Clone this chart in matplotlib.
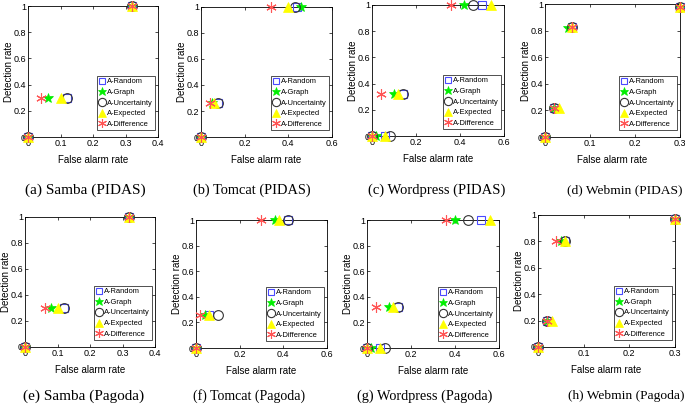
import numpy as np
import matplotlib
matplotlib.use("Agg")
import matplotlib.pyplot as plt

NARROW = ['Liberation Sans Narrow', 'Liberation Sans', 'DejaVu Sans']
plt.rcParams['font.family'] = NARROW

SERIES = ['A-Random', 'A-Graph', 'A-Uncertainty', 'A-Expected', 'A-Difference']

# false alarm rate / detection rate per panel, one list per series (order as SERIES)
samba_pidas_fa = [[0, 0.12, 0.32], [0, 0.06, 0.32], [0, 0.12, 0.32], [0, 0.10, 0.32], [0, 0.04, 0.32]]
samba_pidas_dr = [[0, 0.30, 1], [0, 0.30, 1], [0, 0.30, 1], [0, 0.30, 1], [0, 0.30, 1]]

tomcat_pidas_fa = [[0, 0.08, 0.44], [0, 0.05, 0.46], [0, 0.08, 0.43], [0, 0.06, 0.40], [0, 0.04, 0.32]]
tomcat_pidas_dr = [[0, 0.26, 1], [0, 0.26, 1], [0, 0.26, 1], [0, 0.26, 1], [0, 0.26, 1]]

wordpress_pidas_fa = [[0, 0.06, 0.14, 0.50], [0, 0.02, 0.10, 0.42], [0, 0.08, 0.14, 0.46],
                      [0, 0.06, 0.12, 0.54], [0, 0.04, 0.36]]
wordpress_pidas_dr = [[0, 0, 0.32, 1], [0, 0, 0.32, 1], [0, 0, 0.32, 1], [0, 0, 0.32, 1], [0, 0.32, 1]]

webmin_pidas_fa = [[0, 0.02, 0.06, 0.30], [0, 0.02, 0.05, 0.30], [0, 0.02, 0.06, 0.30],
                   [0, 0.03, 0.06, 0.30], [0, 0.02, 0.06, 0.30]]
webmin_pidas_dr = [[0, 0.22, 0.83, 0.98], [0, 0.22, 0.82, 0.98], [0, 0.22, 0.83, 0.98],
                   [0, 0.22, 0.83, 0.98], [0, 0.22, 0.83, 0.98]]

samba_pagoda_fa = [[0, 0.12, 0.32], [0, 0.08, 0.32], [0, 0.12, 0.32], [0, 0.10, 0.32], [0, 0.06, 0.32]]
samba_pagoda_dr = [[0, 0.30, 1], [0, 0.30, 1], [0, 0.30, 1], [0, 0.30, 1], [0, 0.30, 1]]

tomcat_pagoda_fa = [[0, 0.06, 0.42], [0, 0.04, 0.36], [0, 0.10, 0.42], [0, 0.06, 0.38], [0, 0.02, 0.30]]
tomcat_pagoda_dr = [[0, 0.26, 1], [0, 0.26, 1], [0, 0.26, 1], [0, 0.26, 1], [0, 0.26, 1]]

wordpress_pagoda_fa = [[0, 0.06, 0.14, 0.52], [0, 0.02, 0.10, 0.40], [0, 0.08, 0.14, 0.46],
                       [0, 0.06, 0.12, 0.56], [0, 0.04, 0.36]]
wordpress_pagoda_dr = [[0, 0, 0.32, 1], [0, 0, 0.32, 1], [0, 0, 0.32, 1], [0, 0, 0.32, 1], [0, 0.32, 1]]

webmin_pagoda_fa = [[0, 0.02, 0.06, 0.30], [0, 0.02, 0.05, 0.30], [0, 0.02, 0.06, 0.30],
                    [0, 0.03, 0.06, 0.30], [0, 0.02, 0.04, 0.30]]
webmin_pagoda_dr = [[0, 0.20, 0.80, 0.97], [0, 0.20, 0.80, 0.97], [0, 0.20, 0.80, 0.97],
                    [0, 0.20, 0.80, 0.97], [0, 0.20, 0.80, 0.97]]

captions = ['(a) Samba (PIDAS)', '(b) Tomcat (PIDAS)', '(c) Wordpress (PIDAS)', '(d) Webmin (PIDAS)',
            '(e) Samba (Pagoda)', '(f) Tomcat (Pagoda)', '(g) Wordpress (Pagoda)', '(h) Webmin (Pagoda)']
x_max = [0.4, 0.6, 0.6, 0.3, 0.4, 0.6, 0.6, 0.3]
x_ticks = [[0, 0.1, 0.2, 0.3, 0.4], [0, 0.2, 0.4, 0.6], [0, 0.2, 0.4, 0.6], [0, 0.1, 0.2, 0.3],
           [0, 0.1, 0.2, 0.3, 0.4], [0, 0.2, 0.4, 0.6], [0, 0.2, 0.4, 0.6], [0, 0.1, 0.2, 0.3]]
y_ticks = [0, 0.2, 0.4, 0.6, 0.8, 1]

panels = [(samba_pidas_fa, samba_pidas_dr), (tomcat_pidas_fa, tomcat_pidas_dr),
          (wordpress_pidas_fa, wordpress_pidas_dr), (webmin_pidas_fa, webmin_pidas_dr),
          (samba_pagoda_fa, samba_pagoda_dr), (tomcat_pagoda_fa, tomcat_pagoda_dr),
          (wordpress_pagoda_fa, wordpress_pagoda_dr), (webmin_pagoda_fa, webmin_pagoda_dr)]

# pixel boxes (left, right, top, bottom) of each axes in the 685x404 picture
W, H = 685, 404
boxes = [(28, 158, 6, 137), (201, 332, 7, 137), (372, 504, 5, 136), (545, 680, 4, 137),
         (25, 155, 217, 347), (196, 327, 220, 348), (367, 499, 220, 348), (538, 675, 215, 347)]
cap_pos = [(85, 190), (252, 190), (437, 190), (625, 190),
           (84, 396), (249, 396), (425, 396), (626, 396)]
cap_size = [11, 10.4, 10.5, 9.7, 11, 10, 10.3, 9.7]

styles = [
    dict(marker='s', mfc='none', mec='#4a4aff', ms=5.5, mew=0.8),
    dict(marker='*', mfc='#00ee00', mec='#00ee00', ms=7.5, mew=0.5),
    dict(marker='o', mfc='none', mec='#333333', ms=7, mew=0.8),
    dict(marker='^', mfc='#ffff00', mec='#ffff00', ms=7, mew=0.5),
    dict(marker=(6, 2, 0), mfc='#ff5555', mec='#ff5555', ms=7.5, mew=0.8),
]


def fmt(v):
    return '0' if v == 0 else ('1' if v == 1 else f'{v:g}')


fig = plt.figure(figsize=(W / 100, H / 100), dpi=100)

for k, (fa, dr) in enumerate(panels):
    l, r, t, b = boxes[k]
    wpx, hpx = r - l, b - t
    ax = fig.add_axes([l / W, 1 - b / H, wpx / W, hpx / H])
    for s in range(len(SERIES)):
        ax.plot(fa[s], dr[s], linestyle='none', label=SERIES[s], clip_on=False, zorder=3 + s, **styles[s])
    ax.set_xlim(0, x_max[k])
    ax.set_ylim(0, 1)
    ax.set_xticks(x_ticks[k])
    ax.set_xticklabels([fmt(v) for v in x_ticks[k]])
    ax.set_yticks(y_ticks)
    ax.set_yticklabels([fmt(v) for v in y_ticks])
    ax.tick_params(direction='in', length=2, width=0.5, labelsize=6.5, pad=1.5,
                   top=True, right=True)
    for sp in ax.spines.values():
        sp.set_linewidth(0.6)
    ax.set_xlabel('False alarm rate', fontsize=7, va='center')
    ax.xaxis.set_label_coords(0.5, -23 / hpx)
    ax.set_ylabel('Detection rate', fontsize=7, va='center', family=['Liberation Sans', 'DejaVu Sans'])
    ax.yaxis.set_label_coords(-19 / wpx, 0.5)
    leg = ax.legend(loc='lower right', bbox_to_anchor=(1 - 3 / wpx, 7 / hpx), fontsize=5.4,
                    frameon=True, fancybox=False, borderpad=0.3, labelspacing=0.45,
                    handletextpad=0.25, handlelength=0.8, borderaxespad=0, markerscale=0.85)
    leg.get_frame().set_edgecolor('black')
    leg.get_frame().set_linewidth(0.6)
    cx, cy = cap_pos[k]
    fig.text(cx / W, 1 - cy / H, captions[k], ha='center', va='center',
             fontsize=cap_size[k], family=['Liberation Serif', 'DejaVu Serif'])

fig.savefig('out.png', dpi=100)
